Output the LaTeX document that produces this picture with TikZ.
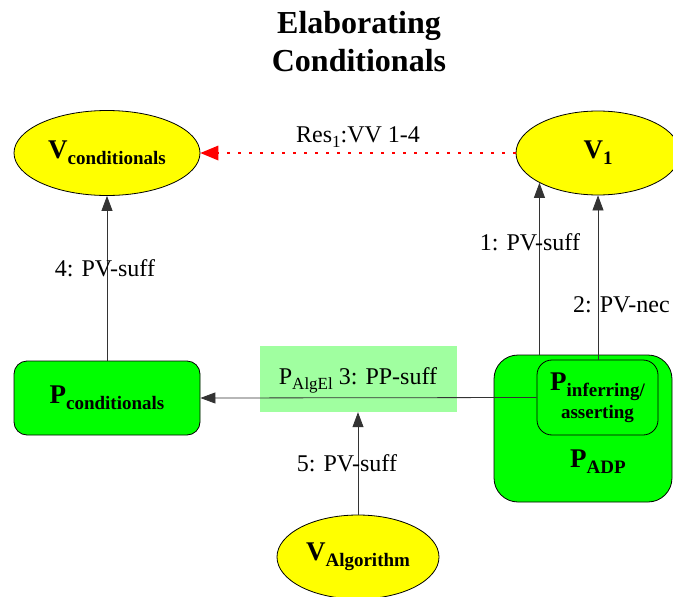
\documentclass[tikz,border=0pt]{standalone}
\usepackage{fontspec}
\setmainfont{Liberation Serif}
\usetikzlibrary{arrows.meta,shapes.geometric}

% bold node label with a lowered, smaller subscript
\newcommand\nodelbl[2]{{\fontsize{27}{30}\selectfont\bfseries #1\raisebox{-6pt}{\fontsize{19}{22}\selectfont #2}}}
\newcommand\edgesub[1]{\raisebox{-5pt}{\fontsize{17}{20}\selectfont #1}}

\definecolor{vyellow}{HTML}{FFFF00}
\definecolor{pgreen}{HTML}{00FF00}
\definecolor{lgreen}{HTML}{A0FFA0}
\definecolor{edgegray}{HTML}{333333}

\tikzset{
  vnode/.style={ellipse, draw=black, fill=vyellow, inner sep=0pt, line width=0.8pt},
  pnode/.style={rectangle, rounded corners=13pt, draw=black, fill=pgreen, inner sep=0pt, line width=0.8pt},
  edgelbl/.style={font=\fontsize{24}{26}\selectfont, inner sep=0pt},
  arr/.style={draw=edgegray, line width=0.8pt, -{Triangle[length=15pt,width=11pt]}},
  resarr/.style={draw=red, line width=2.5pt, dash pattern=on 2.5pt off 8.5pt,
                 -{Triangle[length=18pt,width=15pt,fill=red,line width=0pt]}}
}

\begin{document}
\begin{tikzpicture}[x=1pt,y=-1pt]
\useasboundingbox (0,0) rectangle (673,597);

% title
\node[align=center, font=\fontsize{32}{38}\selectfont\bfseries, inner sep=0pt] (title) at (359,42)
  {Elaborating\\Conditionals};

% process clusters
\node[pnode, rounded corners=24pt, minimum width=178pt, minimum height=147pt] (padp) at (583,428.5) {};
\node[font=\bfseries, inner sep=0pt] (padplbl) at (598,462) {\nodelbl{P}{ADP}};
\node[pnode, rounded corners=15pt, minimum width=121pt, minimum height=75pt, align=center,
      font=\fontsize{27}{28}\selectfont] (pinf) at (597.5,397.5)
  {\nodelbl{P}{inferring/}\\{\fontsize{19}{22}\selectfont\bfseries asserting}};
\node[pnode, minimum width=186pt, minimum height=74pt] (pcond) at (107,398) {\nodelbl{P}{conditionals}};

% value nodes
\node[vnode, minimum width=186pt, minimum height=85pt] (vcond) at (107,153) {\nodelbl{V}{conditionals}};
\node[vnode, minimum width=164pt, minimum height=84pt] (v1) at (598,153) {\nodelbl{V}{1}};
\node[vnode, minimum width=162pt, minimum height=84pt] (valg) at (358,557) {\nodelbl{V}{Algorithm}};

% edge label box of the P-P link
\node[fill=lgreen, minimum width=197pt, minimum height=66pt, inner sep=0pt] (lab) at (358,379) {};
\node[edgelbl] (labtxt) at (358,380) {P\edgesub{AlgEl} 3: PP-suff};

% connectors
\coordinate (v1a) at (v1.207);
\draw[arr] (padp.north -| v1a) -- (v1a);
\draw[arr] (pinf.north -| v1.south) -- (v1.south);
\draw[arr] (pcond) -- (vcond);
\draw[arr] (pinf.west) -- (pcond.east);
\draw[arr] (valg) -- (lab.south);
\draw[resarr] (v1.west) -- (vcond.east);

% connector labels
\node[edgelbl] (l1) at (530,242) {1: PV-suff};
\node[edgelbl, anchor=west] (l2) at (573,305) {2: PV-nec};
\node[edgelbl] (l4) at (105,268) {4: PV-suff};
\node[edgelbl] (l5) at (347,463) {5: PV-suff};
\node[edgelbl] (lres) at (358,137) {Res\edgesub{1}:VV 1-4};
\end{tikzpicture}
\end{document}
